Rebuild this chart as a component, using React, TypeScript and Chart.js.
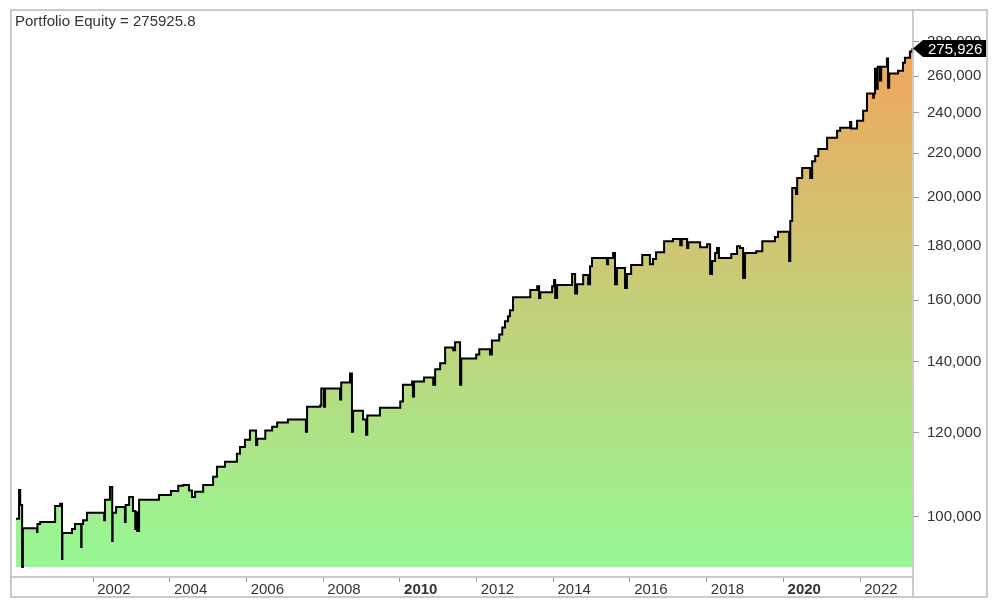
import React, { useEffect, useRef } from "react";
import { Chart, registerables } from "chart.js";

Chart.register(...registerables);

const chartTitle = "Portfolio Equity = 275925.8";

const equityDates = [
  1999.99, 2000.07, 2000.1, 2000.15, 2000.17, 2000.54, 2000.55, 2000.62, 2001.01, 2001.14,
  2001.19, 2001.2, 2001.45, 2001.53, 2001.69, 2001.7, 2001.74, 2001.84, 2002.29, 2002.31,
  2002.44, 2002.5, 2002.51, 2002.6, 2002.83, 2002.85, 2002.94, 2003.04, 2003.1, 2003.12,
  2003.15, 2003.2, 2003.72, 2004.03, 2004.22, 2004.35, 2004.5, 2004.58, 2004.66, 2004.87,
  2005.13, 2005.23, 2005.44, 2005.75, 2005.83, 2005.96, 2006.09, 2006.25, 2006.28, 2006.49,
  2006.67, 2006.8, 2007.08, 2007.55, 2007.58, 2007.92, 2007.95, 2008.02, 2008.05, 2008.44,
  2008.47, 2008.7, 2008.75, 2008.78, 2009.04, 2009.12, 2009.15, 2009.48, 2010.01, 2010.08,
  2010.32, 2010.34, 2010.37, 2010.63, 2010.87, 2010.92, 2011.05, 2011.18, 2011.39, 2011.44,
  2011.57, 2011.6, 2011.99, 2012.07, 2012.35, 2012.4, 2012.59, 2012.67, 2012.74, 2012.82,
  2012.87, 2012.95, 2013.4, 2013.58, 2013.63, 2013.66, 2013.97, 2014.02, 2014.05, 2014.1,
  2014.49, 2014.57, 2014.62, 2014.78, 2014.91, 2014.96, 2015.01, 2015.4, 2015.43, 2015.56,
  2015.61, 2015.66, 2015.87, 2015.92, 2016.03, 2016.32, 2016.52, 2016.6, 2016.68, 2016.89,
  2017.12, 2017.31, 2017.35, 2017.49, 2017.52, 2017.83, 2018.01, 2018.09, 2018.14, 2018.22,
  2018.27, 2018.32, 2018.64, 2018.79, 2018.87, 2018.95, 2019.0, 2019.29, 2019.45, 2019.78,
  2019.86, 2020.15, 2020.18, 2020.23, 2020.33, 2020.36, 2020.49, 2020.7, 2020.75, 2020.83,
  2020.91, 2021.14, 2021.4, 2021.48, 2021.74, 2021.77, 2021.92, 2022.08, 2022.18, 2022.34,
  2022.36, 2022.39, 2022.44, 2022.46, 2022.52, 2022.55, 2022.7, 2022.73, 2022.76, 2022.99,
  2023.12, 2023.17, 2023.3, 2023.36,
];

const equityValues = [
  99600, 106000, 102600, 89700, 97600, 96800, 98500, 98900, 102400, 102900,
  91300, 96600, 97400, 98500, 93700, 98500, 99300, 100900, 99300, 103800,
  106700, 94900, 100900, 102200, 98900, 102600, 104400, 101300, 97400, 101000,
  97000, 103800, 104900, 105800, 107000, 107200, 105900, 104400, 105600, 107200,
  109100, 111500, 112700, 114700, 116400, 118200, 120600, 116900, 118500, 120600,
  121600, 122700, 123500, 120300, 127000, 127300, 132100, 127000, 132100, 129000,
  133800, 136500, 120300, 125900, 123500, 119500, 124600, 126700, 128400, 133200,
  134100, 129800, 134100, 135300, 133200, 137700, 139500, 144400, 143500, 146000,
  133200, 141000, 142200, 143800, 142200, 146600, 148500, 150800, 152800, 154500,
  156500, 161000, 163500, 164900, 160700, 162700, 164900, 167100, 160700, 165300,
  169300, 162300, 165600, 168900, 165600, 172200, 175300, 172900, 175300, 177200,
  165600, 171500, 164200, 169300, 172600, 176400, 172900, 174900, 177500, 181800,
  182600, 180200, 182600, 179100, 181400, 179400, 180600, 169300, 174100, 177200,
  179100, 175300, 176800, 179800, 179100, 167800, 177200, 177900, 181800, 183400,
  185500, 174100, 189900, 204000, 201400, 208500, 213000, 208500, 216200, 218600,
  222000, 227400, 230900, 232400, 235400, 232000, 236000, 241200, 250300, 248000,
  250300, 264200, 253000, 265300, 257500, 265300, 270000, 253500, 261400, 263000,
  267600, 270500, 274200, 275926,
];

const yTickValues = [100000, 120000, 140000, 160000, 180000, 200000, 220000, 240000, 260000, 280000];
const xTickYears = [2002, 2004, 2006, 2008, 2010, 2012, 2014, 2016, 2018, 2020, 2022];
const boldYears = [2010, 2020];
const lastEquityLabel = "275,926";
const lastEquityValue = 275926;
const fillBaseValue = 89700;

const Y_MIN = 87800;
const Y_MAX = 300000;
const X_MIN = 1999.86;
const X_MAX = 2023.38;

const FONT = "Arial, 'Liberation Sans', sans-serif";

const framePlugin = {
  id: "framePlugin",
  afterDraw(chart: any) {
    const ctx = chart.ctx;
    const ca = chart.chartArea;
    ctx.save();
    ctx.strokeStyle = "#b9b9b9";
    ctx.lineWidth = 1.5;
    ctx.strokeRect(11, 10, 976, 587);
    ctx.beginPath();
    ctx.moveTo(ca.right, 10);
    ctx.lineTo(ca.right, 597);
    ctx.moveTo(11, ca.bottom);
    ctx.lineTo(ca.right, ca.bottom);
    ctx.stroke();

    // title
    ctx.fillStyle = "#333";
    ctx.font = `15px ${FONT}`;
    ctx.textBaseline = "alphabetic";
    ctx.textAlign = "left";
    ctx.fillText(chartTitle, 15, 26);

    // last value tag
    const yPix = chart.scales.y.getPixelForValue(lastEquityValue);
    const x0 = ca.right;
    ctx.fillStyle = "#000";
    ctx.beginPath();
    ctx.moveTo(x0, yPix);
    ctx.lineTo(x0 + 10, yPix - 8.5);
    ctx.lineTo(986, yPix - 8.5);
    ctx.lineTo(986, yPix + 8.5);
    ctx.lineTo(x0 + 10, yPix + 8.5);
    ctx.closePath();
    ctx.fill();
    ctx.fillStyle = "#fff";
    ctx.font = `15px ${FONT}`;
    ctx.textBaseline = "middle";
    ctx.fillText(lastEquityLabel, x0 + 15, yPix + 1);
    ctx.restore();
  },
};

export default function App() {
  const canvasRef = useRef<HTMLCanvasElement | null>(null);

  useEffect(() => {
    document.body.style.margin = "0";
    const canvas = canvasRef.current;
    if (!canvas) return;
    const points = equityDates.map((d, i) => ({ x: d, y: equityValues[i] }));

    const chart = new Chart(canvas, {
      type: "line",
      data: {
        datasets: [
          {
            data: points,
            stepped: "before",
            borderColor: "#000",
            borderWidth: 2,
            pointRadius: 0,
            fill: { value: fillBaseValue },
            backgroundColor: (c: any) => {
              const ch = c.chart;
              const ca = ch.chartArea;
              if (!ca) return "#c8cd7a";
              const yb = ch.scales.y.getPixelForValue(fillBaseValue);
              const g = ch.ctx.createLinearGradient(0, ca.top, 0, yb);
              g.addColorStop(0, "#f8a058");
              g.addColorStop(1, "#96f895");
              return g;
            },
          },
        ],
      },
      options: {
        animation: false,
        responsive: false,
        devicePixelRatio: 1,
        layout: { padding: { left: 11, top: 10, right: 13, bottom: 15 } },
        plugins: {
          legend: { display: false },
          tooltip: { enabled: false },
          title: { display: false },
        },
        scales: {
          x: {
            type: "linear",
            position: "bottom",
            min: X_MIN,
            max: X_MAX,
            afterBuildTicks: (s: any) => {
              s.ticks = xTickYears.map((v) => ({ value: v }));
            },
            afterFit: (s: any) => {
              s.height = 20;
              s.paddingLeft = 0;
              s.paddingRight = 0;
            },
            ticks: {
              align: "start",
              autoSkip: false,
              maxRotation: 0,
              padding: -1,
              color: "#333",
              callback: (v: any) => " " + String(v),
              font: (c: any) => ({
                family: FONT,
                size: 15,
                weight: c.tick && boldYears.includes(c.tick.value) ? "bold" : "normal",
              }),
            },
            grid: { drawOnChartArea: false, drawTicks: true, tickLength: 5, color: "#999" },
            border: { display: false },
          },
          y: {
            type: "logarithmic",
            position: "right",
            min: Y_MIN,
            max: Y_MAX,
            afterBuildTicks: (s: any) => {
              s.ticks = yTickValues.map((v) => ({ value: v }));
            },
            afterFit: (s: any) => {
              s.width = 74;
              s.paddingTop = 0;
              s.paddingBottom = 0;
            },
            ticks: {
              padding: 8,
              color: "#333",
              font: { family: FONT, size: 15 },
              callback: (v: any) => Number(v).toLocaleString("en-US"),
            },
            grid: { drawOnChartArea: false, drawTicks: true, tickLength: 6, color: "#999" },
            border: { display: false },
          },
        },
      } as any,
      plugins: [framePlugin],
    });
    return () => chart.destroy();
  }, []);

  return (
    <div style={{ width: 1000, height: 612, position: "relative", background: "#fff" }}>
      <canvas ref={canvasRef} width={1000} height={612} style={{ display: "block" }} />
    </div>
  );
}
